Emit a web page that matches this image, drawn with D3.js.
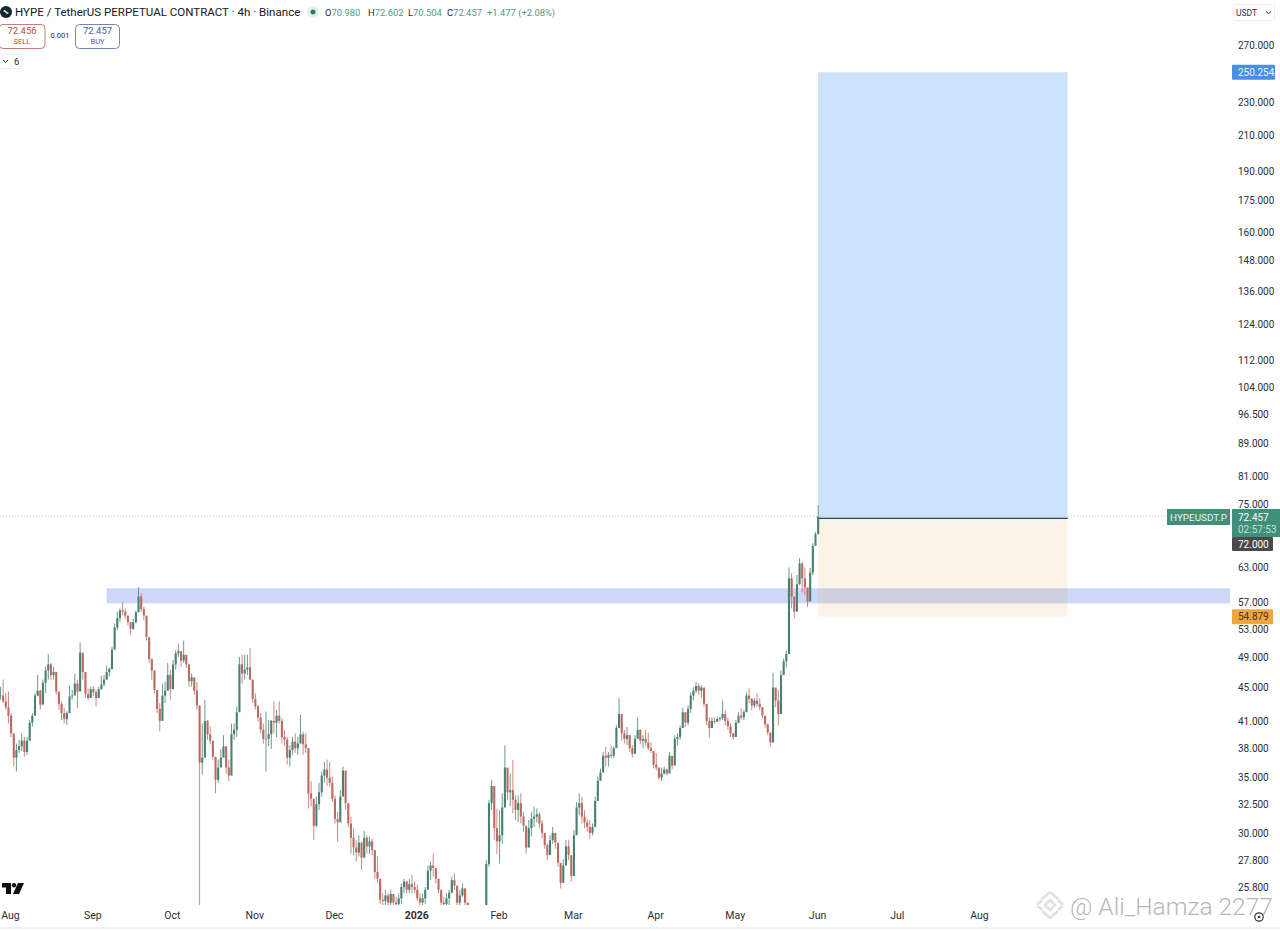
<!DOCTYPE html>
<html>
<head>
<meta charset="utf-8">
<style>
  html, body { margin: 0; padding: 0; background: #fff; }
  svg { display: block; }
  text { font-family: Roboto, "Open Sans", sans-serif; }
</style>
<script src="https://cdn.jsdelivr.net/npm/d3@7"></script>
</head>
<body>
<script>
// HYPE / USDT perp, resampled to one bar per day
let width = 1280, height = 931

let barHigh = [
  45.1,46.0,44.3,44.5,41.9,38.9,38.5,38.9,39.6,39.2,
  39.2,41.1,41.9,44.3,46.6,44.7,46.0,47.7,49.4,48.2,
  47.7,46.8,44.3,43.3,42.5,42.1,45.3,44.7,46.8,46.0,
  51.0,49.3,46.0,44.9,45.1,45.2,44.7,45.1,46.5,46.6,
  47.8,47.6,50.4,53.8,55.6,56.1,57.1,56.1,55.0,54.0,
  54.5,55.8,59.5,58.5,56.35,53.8,51.3,48.8,46.6,44.3,
  43.1,45.5,45.7,48.2,47.3,48.6,49.95,50.85,49.7,51.3,
  49.3,47.5,46.8,46.2,45.7,40.35,40.7,43.5,41.1,40.35,
  38.5,36.1,36.8,37.9,39.4,37.9,36.8,40.7,40.7,42.7,
  49.0,49.3,49.3,49.3,50.2,46.0,44.3,42.9,41.9,40.7,
  42.1,41.1,41.1,43.3,42.3,43.3,41.3,40.0,39.2,38.3,
  39.2,39.6,39.2,41.7,39.8,39.6,37.5,34.65,32.3,33.2,
  34.5,35.6,36.6,36.8,36.6,35.1,33.3,31.8,33.8,36.1,
  34.1,31.5,31.4,30.4,29.4,29.8,29.3,30.2,29.8,29.7,
  29.5,28.5,28.1,26.1,25.35,25.6,25.35,25.6,25.1,25.1,
  25.35,26.06,26.4,26.2,26.4,26.7,26.2,25.95,25.35,25.35,
  25.8,27.4,27.7,28.3,27.05,26.3,25.35,25.1,25.35,25.6,
  26.55,26.8,25.35,25.6,26.06,25.7,24.3,24.0,23.8,23.6,
  23.7,23.4,24.0,27.8,32.9,34.76,33.8,32.1,31.97,33.5,
  38.3,35.7,35.4,36.75,33.3,33.3,33.5,31.8,30.2,31.1,
  31.8,32.3,32.1,31.8,31.1,29.96,29.14,29.8,30.5,29.96,
  29.14,27.05,27.9,29.4,29.4,28.07,30.24,32.7,33.5,33.2,
  31.97,31.2,31.1,30.8,33.2,35.1,35.9,37.6,38.14,37.6,
  38.3,38.2,40.5,43.7,41.3,40.0,40.3,39.4,38.3,39.4,
  41.4,40.0,39.4,40.0,39.7,38.6,37.6,37.5,35.9,36.0,
  36.1,35.9,37.6,36.95,39.4,39.6,40.5,42.5,41.7,42.8,
  44.4,45.05,45.7,45.5,45.3,44.3,41.9,41.4,41.4,41.4,
  41.5,41.5,43.4,42.25,41.4,40.7,39.6,41.1,42.0,42.5,
  42.25,44.4,44.9,43.7,43.7,44.3,43.7,42.6,41.4,40.7,
  39.2,46.9,44.67,44.67,47.2,48.8,49.9,62.9,61.9,57.1,
  61.56,64.55,63.8,62.95,59.35,62.8,67.3,69.4,74.83
]
let barLow = [
  43.5,43.1,42.3,40.7,39.2,36.1,35.6,37.5,37.7,37.1,
  37.3,38.9,40.35,42.5,43.9,42.3,43.5,44.3,46.0,46.0,
  46.0,44.1,42.3,41.1,40.7,40.5,43.3,43.5,44.1,42.5,
  47.7,46.0,43.7,43.4,43.7,43.9,42.7,43.9,44.7,45.1,
  46.0,46.4,47.3,50.6,52.8,54.0,55.0,54.5,53.5,52.1,
  52.8,53.8,56.6,55.6,54.3,51.3,48.2,46.0,44.3,41.9,
  39.8,43.3,43.1,45.5,43.5,45.5,47.3,49.0,47.7,48.2,
  47.5,45.1,45.1,44.1,42.3,24.4,35.3,39.2,38.9,38.4,
  36.8,33.5,34.5,36.1,37.1,35.4,34.65,37.5,38.9,39.2,
  44.7,45.5,46.0,46.6,46.0,43.1,42.3,40.9,39.6,38.5,
  35.6,38.2,37.9,39.6,39.2,40.7,38.5,38.2,36.3,36.1,
  37.3,37.5,37.3,38.5,37.3,37.5,32.1,32.3,29.45,30.5,
  32.0,33.2,34.5,34.2,34.1,32.7,30.8,29.3,31.2,33.5,
  32.0,30.5,28.3,28.2,27.7,28.1,27.05,28.2,28.3,28.3,
  28.2,26.4,26.1,24.6,24.5,24.4,24.4,24.4,24.4,24.4,
  24.4,24.6,25.35,25.35,25.35,25.35,25.35,24.8,24.4,24.4,
  24.6,26.06,26.3,26.55,26.06,25.35,24.4,24.4,24.4,24.5,
  25.35,25.6,24.4,24.4,25.1,24.5,23.4,23.1,22.9,22.7,
  22.6,22.5,22.8,24.0,27.3,31.97,29.4,28.3,27.56,29.1,
  32.3,32.9,32.3,31.7,31.1,30.95,30.8,30.1,28.3,29.1,
  29.7,30.5,30.9,30.4,29.55,28.7,27.8,28.3,29.1,28.7,
  27.3,25.7,26.7,27.4,27.8,26.2,28.07,30.4,31.5,30.8,
  30.4,30.1,29.55,29.8,30.65,33.3,34.76,35.6,36.1,36.1,
  36.9,37.0,38.3,40.5,38.8,38.5,38.3,37.6,37.0,37.6,
  39.4,38.4,38.0,38.3,37.8,37.5,35.9,35.7,34.8,34.7,
  35.3,35.2,35.9,35.8,37.8,38.3,38.9,40.9,40.3,40.5,
  41.9,43.4,44.3,44.05,43.7,42.6,40.5,39.1,40.5,40.7,
  40.9,41.0,41.1,40.5,40.0,39.2,38.9,40.0,40.7,41.1,
  41.1,42.25,43.1,42.25,42.5,42.6,42.25,41.3,40.2,39.4,
  38.2,43.1,42.6,40.5,44.3,47.0,47.6,49.5,56.1,54.6,
  56.1,59.86,58.7,58.2,56.3,57.7,61.56,66.9,70.2
]
let barClose = [
  44.0,43.3,42.6,41.6,39.6,37.0,37.8,38.2,38.8,37.6,
  38.8,40.8,41.6,44.0,44.6,42.9,45.6,47.2,48.0,46.6,
  47.0,44.5,43.0,41.9,41.2,41.9,43.9,44.0,45.5,44.5,
  49.6,47.0,44.2,43.7,44.8,44.4,43.7,44.8,45.4,46.0,
  47.0,47.4,50.0,53.2,54.6,55.8,55.6,55.0,54.0,53.0,
  54.0,55.5,58.0,56.0,55.0,51.8,48.7,47.2,44.7,42.4,
  41.0,44.0,44.6,46.6,44.8,48.0,49.5,49.8,48.5,49.3,
  48.0,45.8,46.3,44.6,42.8,36.5,37.0,41.0,39.5,38.8,
  37.1,34.8,36.0,37.0,38.2,36.0,35.2,39.5,40.0,42.0,
  48.0,46.8,47.3,47.6,46.0,43.6,42.7,41.4,40.0,39.0,
  39.0,39.5,41.0,40.8,41.6,41.0,39.2,38.9,37.0,37.8,
  38.7,38.0,38.5,39.5,38.4,38.0,33.5,33.0,30.6,32.5,
  33.6,35.2,35.8,35.0,34.5,33.0,31.2,30.9,33.2,35.7,
  32.6,30.8,29.6,28.8,28.4,29.2,28.0,29.6,28.9,29.3,
  28.6,26.9,26.4,24.9,24.8,25.2,24.7,25.3,24.7,24.6,
  25.0,25.8,26.2,25.6,26.0,25.8,25.6,25.0,24.7,25.0,
  25.6,27.0,27.4,27.2,26.4,25.6,24.7,24.6,25.0,25.4,
  26.3,25.9,24.7,25.2,25.7,24.7,23.6,23.3,23.1,23.2,
  22.9,23.0,23.9,27.5,32.6,34.2,30.4,29.3,29.8,32.2,
  36.0,33.6,33.8,32.9,32.0,32.6,31.4,30.6,28.8,30.4,
  31.2,31.4,31.6,30.8,30.0,29.0,28.2,29.4,30.0,29.2,
  27.6,26.1,27.4,28.9,28.2,26.6,29.8,32.2,32.6,31.4,
  30.9,30.5,30.0,30.5,32.8,34.7,35.5,37.2,37.0,37.3,
  37.2,38.0,40.2,41.8,39.6,39.0,39.4,38.0,37.4,39.0,
  40.0,38.8,39.0,38.6,38.0,37.7,36.3,36.0,35.0,35.4,
  35.8,35.4,37.2,36.2,39.0,39.2,40.2,42.0,40.8,42.4,
  44.0,44.6,45.2,44.6,45.0,43.0,41.0,40.2,41.0,40.9,
  41.2,41.3,41.8,41.0,40.4,39.6,39.2,40.8,41.6,41.4,
  42.0,44.0,43.6,42.8,43.4,43.0,42.6,41.6,40.6,39.7,
  38.6,45.0,43.4,41.8,46.6,48.4,49.4,61.0,58.0,55.6,
  60.0,63.6,61.0,59.5,57.2,62.0,66.8,69.0,72.457
]

let firstBar = new Date(Date.UTC(2025, 6, 28, 10))

let priceTicks = [270, 230, 210, 190, 175, 160, 148, 136, 124, 112, 104, 96.5, 89, 81, 75, 63, 57, 53, 49, 45, 41, 38, 35, 32.5, 30, 27.8, 25.8]
let monthTicks = [
  new Date(Date.UTC(2025, 7, 1)), new Date(Date.UTC(2025, 8, 1)), new Date(Date.UTC(2025, 9, 1)),
  new Date(Date.UTC(2025, 10, 1)), new Date(Date.UTC(2025, 11, 1)), new Date(Date.UTC(2026, 0, 1)),
  new Date(Date.UTC(2026, 1, 1)), new Date(Date.UTC(2026, 2, 1)), new Date(Date.UTC(2026, 3, 1)),
  new Date(Date.UTC(2026, 4, 1)), new Date(Date.UTC(2026, 5, 1)), new Date(Date.UTC(2026, 6, 1)),
  new Date(Date.UTC(2026, 7, 1))
]
let monthLabels = ["Aug", "Sep", "Oct", "Nov", "Dec", "2026", "Feb", "Mar", "Apr", "May", "Jun", "Jul", "Aug"]

// position tool and supply zone, in price and time
let lastPrice = 72.457, entryPrice = 72, targetPrice = 250.254, stopPrice = 54.879
let zoneTop = 59.35, zoneBottom = 56.9
let positionStart = new Date(Date.UTC(2026, 5, 1, 9)), positionEnd = new Date(Date.UTC(2026, 8, 3, 9))
let zoneStart = new Date(Date.UTC(2025, 8, 6, 9))

let up = "#4a8072", down = "#bb6b62"
let fmt = d3.format(".3f")

// price pane is log scale, time runs a bit past the last bar
let y = d3.scaleLog().domain([25.8, 270]).range([887, 45])
let x = d3.scaleUtc().domain([monthTicks[0], monthTicks[12]]).range([10, 979])

let bars = barClose.map((c, i) => ({
  date: d3.utcDay.offset(firstBar, i),
  high: barHigh[i],
  low: barLow[i],
  close: c,
  open: i ? barClose[i - 1] : c
}))

let svg = d3.select("body").append("svg")
  .attr("width", width)
  .attr("height", height)

svg.append("clipPath").attr("id", "pane")
  .append("rect").attr("x", 0).attr("y", 0).attr("width", 1230).attr("height", 905)

// the source screenshot is soft, candles get a slight blur to match
svg.append("filter").attr("id", "soft")
  .attr("x", "-2%").attr("y", "-2%").attr("width", "104%").attr("height", "104%")
  .append("feGaussianBlur").attr("stdDeviation", 0.45)

let pane = svg.append("g").attr("clip-path", "url(#pane)")

// last price dotted line
pane.append("line")
  .attr("x1", 0).attr("x2", 1167)
  .attr("y1", y(lastPrice)).attr("y2", y(lastPrice))
  .attr("stroke", "#b9c4bf").attr("stroke-width", 1).attr("stroke-dasharray", "1 2")

// zone under the position tool
pane.append("rect")
  .attr("x", x(zoneStart)).attr("width", 1230 - x(zoneStart))
  .attr("y", y(zoneTop)).attr("height", y(zoneBottom) - y(zoneTop))
  .attr("fill", "#cdd8f9")

let posX = x(positionStart), posW = x(positionEnd) - posX
let entryY = Math.floor(y(entryPrice)) + 0.5

pane.append("rect").attr("x", posX).attr("width", posW)
  .attr("y", y(targetPrice)).attr("height", entryY - y(targetPrice))
  .attr("fill", "#cce3fb")
pane.append("rect").attr("x", posX).attr("width", posW)
  .attr("y", y(lastPrice)).attr("height", entryY - y(lastPrice))
  .attr("fill", "#a9c4dc")
pane.append("rect").attr("x", posX).attr("width", posW)
  .attr("y", entryY).attr("height", y(stopPrice) - entryY)
  .attr("fill", "rgb(215,135,0)").attr("fill-opacity", 0.1)
pane.append("line").attr("x1", posX).attr("x2", posX + posW)
  .attr("y1", entryY).attr("y2", entryY)
  .attr("stroke", "#2f3c46").attr("stroke-width", 1)

// candles
let candle = pane.append("g").attr("filter", "url(#soft)")
  .selectAll("g").data(bars).join("g")
candle.append("line")
  .attr("x1", d => x(d.date)).attr("x2", d => x(d.date))
  .attr("y1", d => y(d.high)).attr("y2", d => y(d.low))
  .attr("stroke", d => d.close >= d.open ? up : down)
  .attr("stroke-width", 1)
  .attr("stroke-opacity", 0.8)
candle.append("rect")
  .attr("x", d => x(d.date) - 1.05)
  .attr("width", 2.1)
  .attr("y", d => y(Math.max(d.open, d.close)))
  .attr("height", d => Math.max(0.6, Math.abs(y(d.open) - y(d.close))))
  .attr("fill", d => d.close >= d.open ? up : down)

// price axis
let yAxis = svg.append("g")
  .attr("transform", "translate(1238,0)")
  .call(d3.axisRight(y).tickValues(priceTicks).tickFormat(fmt).tickSize(0).tickPadding(0))
yAxis.select(".domain").remove()
yAxis.selectAll("text")
  .attr("font-family", "Roboto, sans-serif").attr("font-size", 10).attr("fill", "#2a2e39")

// time axis
let xAxis = svg.append("g")
  .attr("transform", "translate(0,909)")
  .call(d3.axisBottom(x).tickValues(monthTicks).tickFormat((d, i) => monthLabels[i]).tickSize(0).tickPadding(3))
xAxis.select(".domain").remove()
xAxis.selectAll("text")
  .attr("font-family", "Roboto, sans-serif").attr("font-size", 10.5).attr("fill", "#2a2e39")
  .attr("font-weight", (d, i) => monthLabels[i] == "2026" ? 700 : 400)

svg.append("line").attr("x1", 0).attr("x2", width).attr("y1", 928).attr("y2", 928)
  .attr("stroke", "#e6e6e6")

// price labels on the right
function priceLabel(px, py, w, h, fill, txt, color) {
  svg.append("rect").attr("x", px).attr("y", py).attr("width", w).attr("height", h).attr("rx", 1).attr("fill", fill)
  svg.append("text").attr("x", px + 6).attr("y", py + h / 2 + 3.6)
    .attr("font-size", 10).attr("fill", color).text(txt)
}
priceLabel(1232, y(targetPrice) - 7.5, 43, 15, "#4a90e2", fmt(targetPrice), "#e9f2fd")
priceLabel(1232, y(entryPrice) + 18, 41, 14, "#4a4a4a", fmt(entryPrice), "#fff")
priceLabel(1232, y(stopPrice) - 7, 41, 15, "#f0a63f", fmt(stopPrice), "#4a3413")

svg.append("rect").attr("x", 1167).attr("y", 509).attr("width", 63).attr("height", 16).attr("fill", "#3f8f7a")
svg.append("text").attr("x", 1170).attr("y", 521).attr("font-size", 9.9).attr("fill", "#eaf5f0").text("HYPEUSDT.P")
svg.append("rect").attr("x", 1232).attr("y", 509).attr("width", 48).attr("height", 28).attr("fill", "#3f8f7a")
svg.append("text").attr("x", 1238).attr("y", 521).attr("font-size", 10).attr("fill", "#fff").text(fmt(lastPrice))
svg.append("text").attr("x", 1238).attr("y", 533).attr("font-size", 10).attr("fill", "#bfe3d6").text("02:57:53")

// USDT box
svg.append("rect").attr("x", 1233.5).attr("y", 4.5).attr("width", 41).attr("height", 16).attr("rx", 2)
  .attr("fill", "#fff").attr("stroke", "#eeeeee")
svg.append("text").attr("x", 1236).attr("y", 16).attr("font-size", 8.5).attr("fill", "#2a2e39").text("USDT")
svg.append("path").attr("d", "M1266 11.5 l2.5 2 l2.5 -2").attr("fill", "none").attr("stroke", "#2a2e39")

// header
svg.append("circle").attr("cx", 6).attr("cy", 12).attr("r", 6).attr("fill", "#11252a")
svg.append("path").attr("d", "M3 12 Q4 8.5 6 11 Q8 13.5 9 12 Q8 15.5 6 13 Q4 10.5 3 12Z").attr("fill", "#dff5ee")
svg.append("text").attr("x", 15).attr("y", 16).attr("font-size", 11.55).attr("fill", "#131722")
  .text("HYPE / TetherUS PERPETUAL CONTRACT · 4h · Binance")
svg.append("circle").attr("cx", 313).attr("cy", 12).attr("r", 6).attr("fill", "#e3f1ec")
svg.append("circle").attr("cx", 313).attr("cy", 12).attr("r", 2.5).attr("fill", "#2f7d68")

let ohlc = [["O", "70.980", 325], ["H", "72.602", 368], ["L", "70.504", 408], ["C", "72.457", 447]]
ohlc.forEach(d => {
  let t = svg.append("text").attr("x", d[2]).attr("y", 15.5).attr("font-size", 9.4)
  t.append("tspan").attr("fill", "#2a2e39").text(d[0])
  t.append("tspan").attr("fill", "#4f9c87").text(d[1])
})
svg.append("text").attr("x", 487).attr("y", 15.5).attr("font-size", 9.4).attr("fill", "#4f9c87").text("+1.477 (+2.08%)")

function tradeBox(bx, bw, color, price, side) {
  svg.append("rect").attr("x", bx).attr("y", 24.5).attr("width", bw).attr("height", 24).attr("rx", 4)
    .attr("fill", "#fff").attr("stroke", color).attr("stroke-opacity", 0.75)
  svg.append("text").attr("x", bx + bw / 2).attr("y", 33.5).attr("text-anchor", "middle")
    .attr("font-size", 9.5).attr("fill", color).text(price)
  svg.append("text").attr("x", bx + bw / 2).attr("y", 43.5).attr("text-anchor", "middle")
    .attr("font-size", 7.5).attr("fill", color).text(side)
}
tradeBox(-1, 46, "#b5504a", "72.456", "SELL")
tradeBox(75.5, 44, "#46609e", "72.457", "BUY")
svg.append("text").attr("x", 60).attr("y", 38).attr("text-anchor", "middle").attr("font-size", 7.5).attr("fill", "#2a2e39").text("0.001")

svg.append("rect").attr("x", -1).attr("y", 54.5).attr("width", 23).attr("height", 14).attr("rx", 2)
  .attr("fill", "#fff").attr("stroke", "#eeeeee")
svg.append("path").attr("d", "M3 60 l2.5 2.5 l2.5 -2.5").attr("fill", "none").attr("stroke", "#2a2e39")
svg.append("text").attr("x", 14).attr("y", 65).attr("font-size", 9.5).attr("fill", "#2a2e39").text("6")

// TradingView mark
svg.append("path").attr("fill", "#0c0e14")
  .attr("d", "M2 883 H11 V894 H6 V887.5 H2 Z M18 883 H24 L19 894 H13 Z")
svg.append("circle").attr("cx", 14).attr("cy", 885.2).attr("r", 2.2).attr("fill", "#0c0e14")

// gear in the corner
svg.append("circle").attr("cx", 1259).attr("cy", 917).attr("r", 4.2).attr("fill", "none").attr("stroke", "#30343c").attr("stroke-width", 1.2)
svg.append("circle").attr("cx", 1259).attr("cy", 917).attr("r", 1.3).attr("fill", "#30343c")

// watermark
let mark = svg.append("g").attr("fill", "none").attr("stroke", "#e0e0e0").attr("stroke-width", 2.6)
mark.append("path").attr("d", "M1050 892 L1058 899 M1050 892 L1042 899 M1037 905 L1042 900 M1063 905 L1058 900 M1037 905 L1042 910 M1063 905 L1058 910 M1050 918 L1058 911 M1050 918 L1042 911 M1050 900 L1055 905 L1050 910 L1045 905 Z")
svg.append("text").attr("x", 1070).attr("y", 915).attr("font-size", 24.5)
  .attr("font-family", "Roboto, sans-serif").attr("font-weight", 300)
  .attr("fill", "#a8a8a8").attr("fill-opacity", 0.85).text("@ Ali_Hamza 2277")
</script>
</body>
</html>
